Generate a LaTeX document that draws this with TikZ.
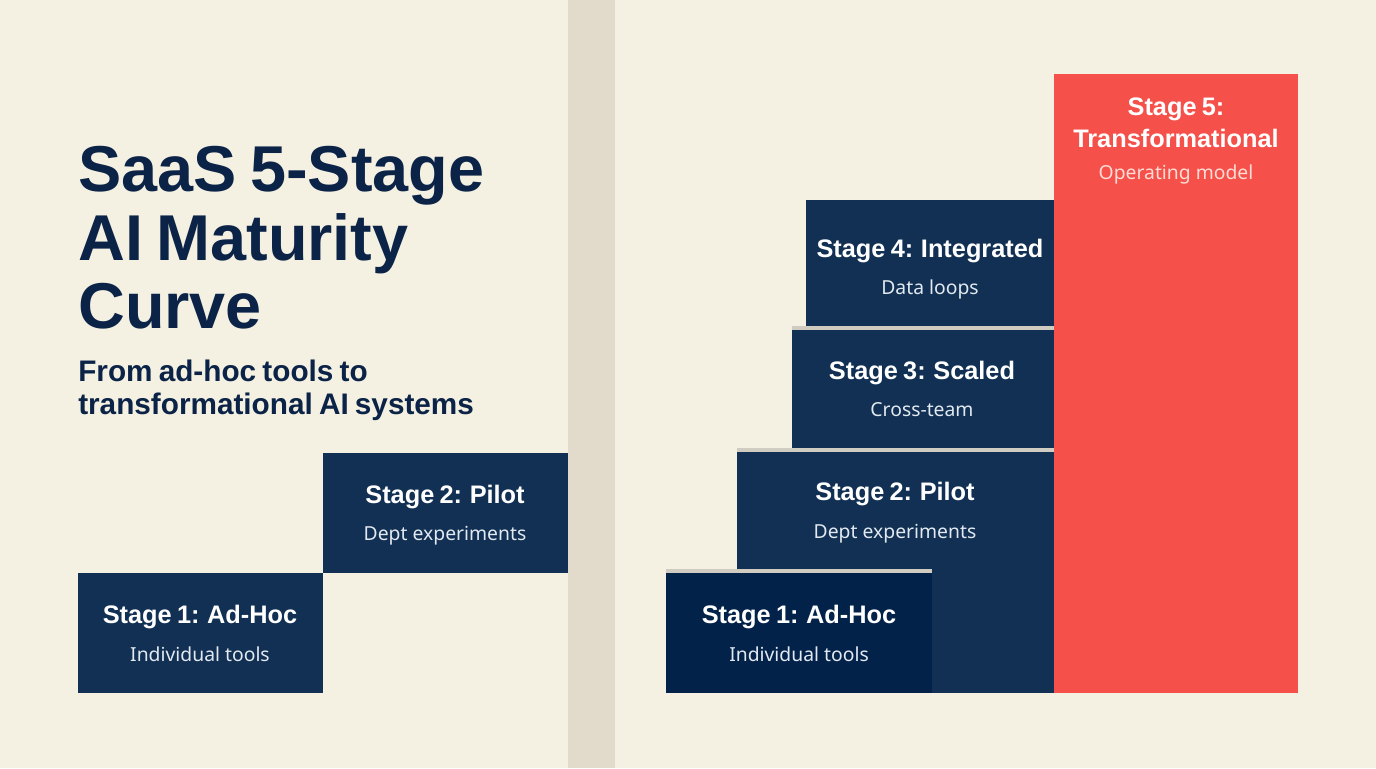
\documentclass[tikz,border=0pt]{standalone}
\usepackage{xcolor}
\usepackage{fontspec}
\setmainfont[WordSpace=0.75]{Liberation Sans}
\newfontfamily\subfont{Noto Sans}
\definecolor{paper}{RGB}{244,240,226}
\definecolor{strip}{RGB}{226,218,202}
\definecolor{navy}{RGB}{17,48,83}
\definecolor{deepnavy}{RGB}{3,34,73}
\definecolor{inknavy}{RGB}{11,35,71}
\definecolor{coral}{RGB}{245,80,74}
\definecolor{ledge}{RGB}{208,204,194}
\definecolor{subblue}{RGB}{226,233,240}
\definecolor{subcoral}{RGB}{253,220,214}
\tikzset{
  stagetitle/.style={anchor=base,inner sep=0.75pt,text=white,font=\fontsize{19}{23}\selectfont\bfseries},
  stagesub/.style={anchor=base,inner sep=0.75pt,text=subblue,font=\subfont\fontsize{14.5}{18}\selectfont},
  headline/.style={anchor=base west,inner sep=0pt,text=inknavy,font=\fontsize{48.6}{58}\selectfont\bfseries},
  subline/.style={anchor=base west,inner sep=0pt,text=inknavy,font=\fontsize{22.3}{27}\selectfont\bfseries},
}
\begin{document}
\begin{tikzpicture}[x=0.75pt,y=0.75pt,yscale=-1,xscale=1]
\useasboundingbox (0,0) rectangle (1376,768);

%Shape: Rectangle [background]
\fill [paper] (0,0) -- (1376,0) -- (1376,768) -- (0,768) -- cycle ;
%Shape: Rectangle [strip]
\fill [strip] (568,0) -- (615,0) -- (615,768) -- (568,768) -- cycle ;

%Shape: Rectangle [left stage 1]
\fill [navy] (78,573) -- (323,573) -- (323,693) -- (78,693) -- cycle ;
%Shape: Rectangle [left stage 2]
\fill [navy] (323,453) -- (568,453) -- (568,573) -- (323,573) -- cycle ;

%Shape: Rectangle [right stage 4]
\fill [navy] (806,200) -- (1053.5,200) -- (1053.5,326) -- (806,326) -- cycle ;
%Shape: Rectangle [right stage 3]
\fill [ledge] (792,326) -- (1053.5,326) -- (1053.5,330) -- (792,330) -- cycle ;
\fill [navy] (792,330) -- (1053.5,330) -- (1053.5,448) -- (792,448) -- cycle ;
%Shape: Rectangle [right stage 2]
\fill [ledge] (737,448) -- (1053.5,448) -- (1053.5,452) -- (737,452) -- cycle ;
\fill [navy] (737,452) -- (1053.5,452) -- (1053.5,693) -- (737,693) -- cycle ;
%Shape: Rectangle [right stage 1]
\fill [ledge] (666,569) -- (932,569) -- (932,573) -- (666,573) -- cycle ;
\fill [deepnavy] (666,573) -- (932,573) -- (932,693) -- (666,693) -- cycle ;
%Shape: Rectangle [right stage 5]
\fill [coral] (1053.5,74) -- (1298,74) -- (1298,693) -- (1053.5,693) -- cycle ;

% Text Node
\draw (78,191) node (headA) [headline] {SaaS 5-Stage};
% Text Node
\draw (78,260) node (headB) [headline] {AI Maturity};
% Text Node
\draw (78,328) node (headC) [headline] {Curve};
% Text Node
\draw (78,381) node (subA) [subline] {From ad-hoc tools to};
% Text Node
\draw (78,414) node (subB) [subline] {transformational AI systems};

% Text Node
\draw (200,623) node (leftOne) [stagetitle] {Stage 1: Ad-Hoc};
% Text Node
\draw (200,661) node (leftOneSub) [stagesub] {Individual tools};
% Text Node
\draw (445,503) node (leftTwo) [stagetitle] {Stage 2: Pilot};
% Text Node
\draw (445,540) node (leftTwoSub) [stagesub] {Dept experiments};

% Text Node
\draw (799,623) node (rightOne) [stagetitle] {Stage 1: Ad-Hoc};
% Text Node
\draw (799,661) node (rightOneSub) [stagesub] {Individual tools};
% Text Node
\draw (895,500) node (rightTwo) [stagetitle] {Stage 2: Pilot};
% Text Node
\draw (895,538) node (rightTwoSub) [stagesub] {Dept experiments};
% Text Node
\draw (922,379) node (rightThree) [stagetitle] {Stage 3: Scaled};
% Text Node
\draw (922,416) node (rightThreeSub) [stagesub] {Cross-team};
% Text Node
\draw (930,257) node (rightFour) [stagetitle] {Stage 4: Integrated};
% Text Node
\draw (930,294) node (rightFourSub) [stagesub] {Data loops};
% Text Node
\draw (1176,115) node (rightFive) [stagetitle] {Stage 5:};
% Text Node
\draw (1176,147) node (rightFiveB) [stagetitle] {Transformational};
% Text Node
\draw (1176,179) node (rightFiveSub) [stagesub,text=subcoral] {Operating model};

\end{tikzpicture}
\end{document}
